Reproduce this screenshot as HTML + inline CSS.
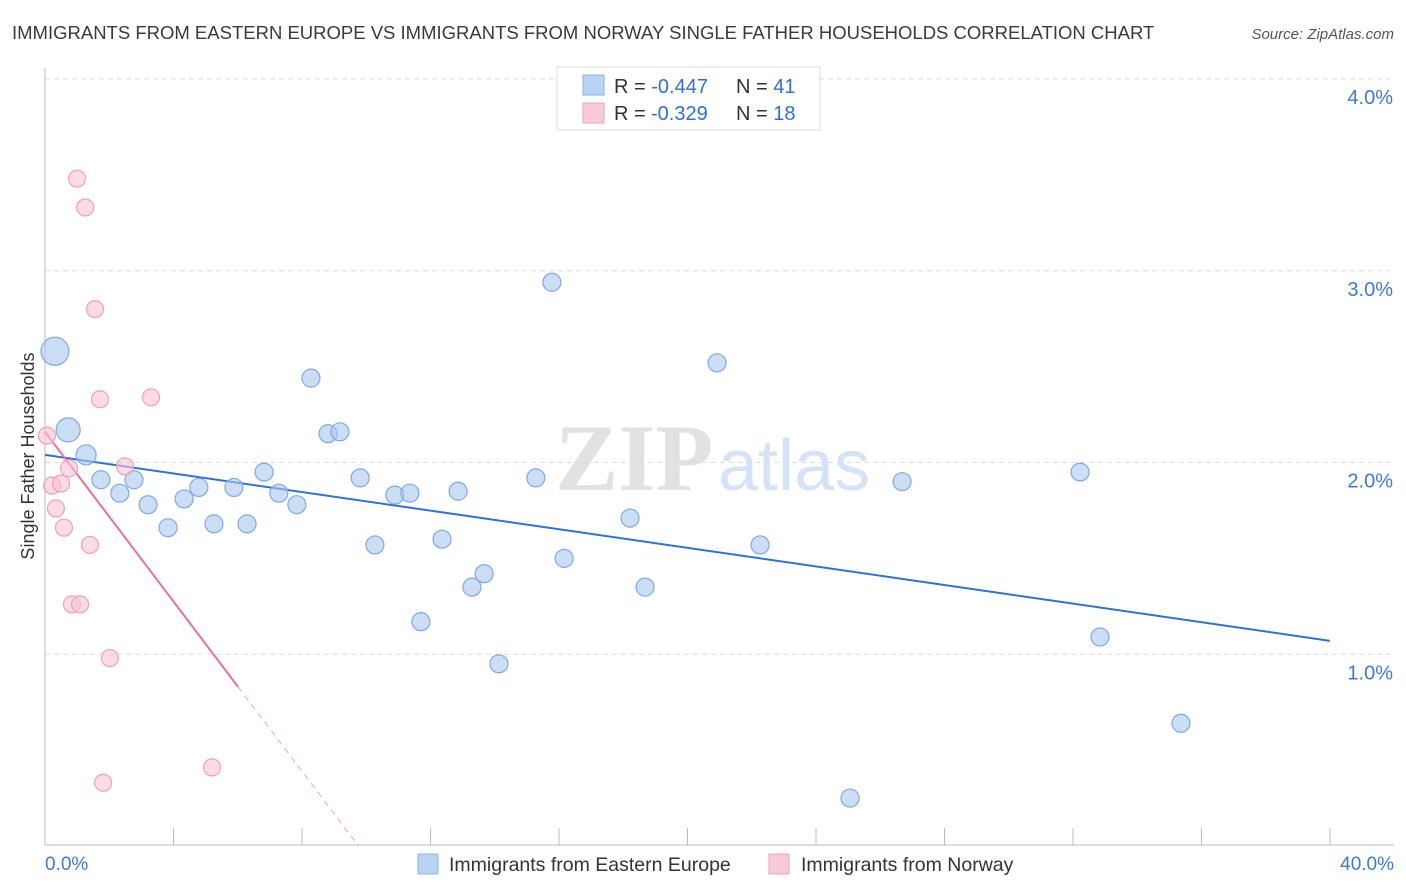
<!DOCTYPE html>
<html><head><meta charset="utf-8"><style>
body{margin:0;background:#fff;font-family:"Liberation Sans",sans-serif;}
svg{display:block}
</style></head><body>
<svg id="chart" width="1406" height="892" xmlns="http://www.w3.org/2000/svg" font-family="Liberation Sans, sans-serif">
<text x="12" y="39" font-size="18.5" fill="#3a3a3a">IMMIGRANTS FROM EASTERN EUROPE VS IMMIGRANTS FROM NORWAY SINGLE FATHER HOUSEHOLDS CORRELATION CHART</text>
<text x="1394" y="39" font-size="15" fill="#555" text-anchor="end" font-style="italic">Source: ZipAtlas.com</text>
<g>
<text x="555" y="490" font-size="95" fill="#e2e2e2" font-family="Liberation Serif, serif" font-weight="bold">ZIP</text>
<text x="718" y="490" font-size="72" fill="#d4e3f6">atlas</text>
</g>
<g id="grid"></g>
<g id="axes"></g>
<text transform="translate(34,456) rotate(-90)" font-size="18" fill="#333" text-anchor="middle">Single Father Households</text>
<g id="lines"></g>
<g id="points"></g>
<g>
<rect x="557" y="67" width="263" height="63" fill="#fff" stroke="#ddd"/>
<rect x="583" y="75" width="21" height="20" fill="#b9d3f5" stroke="#8ab2e6"/>
<text x="614" y="93" font-size="20" fill="#333">R = <tspan fill="#2f6fd6">-0.447</tspan><tspan x="736">N = </tspan><tspan fill="#2f6fd6">41</tspan></text>
<rect x="583" y="103" width="21" height="20" fill="#fbcad8" stroke="#f0a3bb"/>
<text x="614" y="120" font-size="20" fill="#333">R = <tspan fill="#2f6fd6" x="651">-0.329</tspan><tspan x="736">N = </tspan><tspan fill="#2f6fd6">18</tspan></text>
</g>
<g>
<rect x="418" y="854" width="20" height="20" fill="#b9d3f5" stroke="#8ab2e6"/>
<text x="449" y="871" font-size="19.5" fill="#333">Immigrants from Eastern Europe</text>
<rect x="769" y="854" width="20" height="20" fill="#fbcad8" stroke="#f0a3bb"/>
<text x="801" y="871" font-size="19.5" fill="#333">Immigrants from Norway</text>
</g>
</svg>
<script>
const blueX=[0.31,0.72,1.28,1.74,2.33,2.77,3.21,3.83,4.33,4.79,5.26,5.88,6.29,6.82,7.28,7.84,8.28,8.81,9.18,9.81,10.27,10.89,11.36,11.70,12.36,12.86,13.29,13.67,14.13,15.28,15.78,16.16,18.21,18.68,20.92,22.26,25.06,26.68,32.22,32.84,35.36];
const blueY=[2.58,2.17,2.04,1.91,1.84,1.91,1.78,1.66,1.81,1.87,1.68,1.87,1.68,1.95,1.84,1.78,2.44,2.15,2.16,1.92,1.57,1.83,1.84,1.17,1.60,1.85,1.35,1.42,0.95,1.92,2.94,1.50,1.71,1.35,2.52,1.57,0.25,1.90,1.95,1.09,0.64];
const pinkX=[0.06,0.22,0.50,0.34,0.59,0.75,1.00,1.25,1.56,1.71,1.40,0.84,1.09,2.02,2.49,3.30,1.81,5.20];
const pinkY=[2.14,1.88,1.89,1.76,1.66,1.97,3.48,3.33,2.80,2.33,1.57,1.26,1.26,0.98,1.98,2.34,0.33,0.41];
const blueTrend=[2.04,1.07];
const pinkTrend=[2.16,0.83,6.01];
const yTicks=[1,2,3,4];
const yTickLabels=["1.0%","2.0%","3.0%","4.0%"];
const xTicks=[0,4,8,12,16,20,24,28,32,36,40];
const NS="http://www.w3.org/2000/svg";
const X=v=>45+v*32.125, Y=v=>846-v*191.75;
function mk(t,a,p){const e=document.createElementNS(NS,t);for(const k in a)e.setAttribute(k,a[k]);p.appendChild(e);return e;}
const grid=document.getElementById('grid'),axes=document.getElementById('axes'),lines=document.getElementById('lines'),pts=document.getElementById('points');
yTicks.forEach((t,i)=>{const l=mk('line',{x1:45,x2:1394,y1:Y(t),y2:Y(t),stroke:'#ddd','stroke-dasharray':'5,4'},grid);

const tx=mk('text',{x:1393,y:Y(t)+25,'font-size':20,fill:'#3d79d8','text-anchor':'end'},axes);tx.textContent=yTickLabels[i];
});
mk('line',{x1:45,x2:1394,y1:845,y2:845,stroke:'#bbb'},axes);
mk('line',{x1:45,x2:45,y1:68,y2:845,stroke:'#bbb'},axes);
xTicks.forEach(t=>{const l=mk('line',{x1:X(t),x2:X(t),y1:828,y2:845,stroke:'#bbb'},axes);
});
let a=mk('text',{x:45,y:870,'font-size':19,fill:'#3d79d8'},axes);a.textContent='0.0%';

a=mk('text',{x:1394,y:870,'font-size':19,fill:'#3d79d8','text-anchor':'end'},axes);a.textContent='40.0%';

blueX.forEach((x,i)=>{const r=i==0?14:(i==1?12:(i==2?10:9));const c=mk('circle',{cx:X(x),cy:Y(blueY[i]),r:r,fill:'rgba(170,200,240,0.6)',stroke:'#7ea9e2','stroke-width':1.2},pts);
});
pinkX.forEach((x,i)=>{const c=mk('circle',{cx:X(x),cy:Y(pinkY[i]),r:8.5,fill:'rgba(248,195,212,0.6)',stroke:'#f0a0b9','stroke-width':1.2},pts);
});
let bl=mk('line',{x1:X(0),y1:Y(blueTrend[0]),x2:X(40),y2:Y(blueTrend[1]),stroke:'#2f72d6','stroke-width':2},lines);

const slope=(pinkTrend[1]-pinkTrend[0])/pinkTrend[2], x0=-pinkTrend[0]/slope;
let pl=mk('line',{x1:X(0),y1:Y(pinkTrend[0]),x2:X(pinkTrend[2]),y2:Y(pinkTrend[1]),stroke:'#e8709a','stroke-width':2},lines);

let pd=mk('line',{x1:X(pinkTrend[2]),y1:Y(pinkTrend[1]),x2:X(x0),y2:Y(0),stroke:'#f0a0b9','stroke-width':1,'stroke-dasharray':'6,5'},lines);

</script>
</body></html>
